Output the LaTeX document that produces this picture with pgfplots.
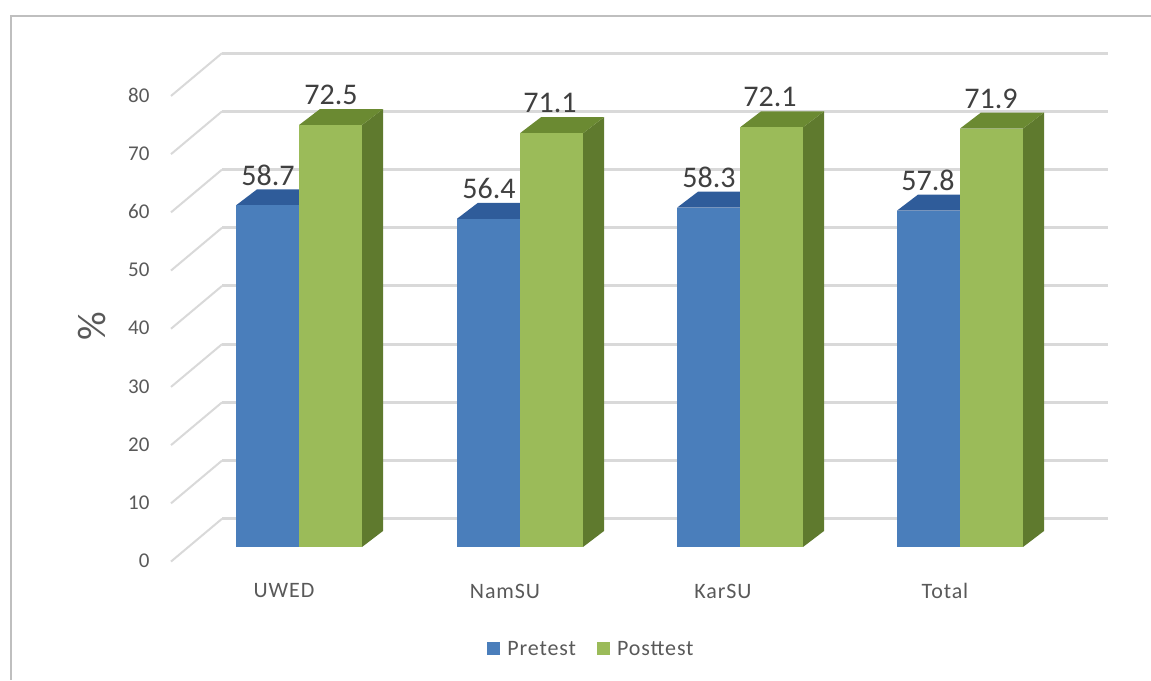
\documentclass[border=0pt]{standalone}
\usepackage{fontspec}
\setmainfont{Carlito}
\newfontfamily\spaced[LetterSpace=4]{Carlito}
\usepackage{pgfplots}
\pgfplotsset{compat=1.18}

\definecolor{gridc}{HTML}{D9D9D9}
\definecolor{framec}{HTML}{BFBFBF}
\definecolor{textc}{HTML}{595959}
\definecolor{labelc}{HTML}{404040}
\definecolor{bluef}{HTML}{4A7EBB}
\definecolor{bluet}{HTML}{2F5C9A}
\definecolor{greenf}{HTML}{9BBB59}
\definecolor{greens}{HTML}{5F7A2E}
\definecolor{greent}{HTML}{6B8A32}

% one level of the back wall and its diagonal on the floor side
\newcommand{\gridlevel}[1]{%
  \pgfmathsetmacro\yb{#1+4.85}\pgfmathsetmacro\yf{#1-2.5}%
  \addplot[forget plot, gridc, line width=3pt] coordinates {(222,\yb) (1108,\yb)};
  \addplot[forget plot, gridc, line width=2pt] coordinates {(171,\yf) (222,\yb)};
}
% one bar: left edge, value, front/side/top colours
\newcommand{\onebar}[5]{%
  \pgfmathsetmacro\xr{#1+63}\pgfmathsetmacro\xa{#1+21}\pgfmathsetmacro\xb{#1+84}%
  \pgfmathsetmacro\yt{#2+2.75}%
  \addplot[forget plot, fill=#4, draw=none] coordinates {(\xr,0) (\xb,2.75) (\xb,\yt) (\xr,#2)} --cycle;
  \addplot[forget plot, fill=#5, draw=none] coordinates {(#1,#2) (\xa,\yt) (\xb,\yt) (\xr,#2)} --cycle;
  \addplot[forget plot, fill=#3, draw=none] coordinates {(#1,0) (\xr,0) (\xr,#2) (#1,#2)} --cycle;
}
\newcommand{\barlabel}[2]{%
  \node[font=\fontsize{30}{30}\selectfont, text=labelc, anchor=center, yshift=30pt] at (axis cs:#1,#2) {#2};
}

\begin{document}
\begin{tikzpicture}
\useasboundingbox (-172pt,-133pt) rectangle (979pt,547pt);
\begin{axis}[
    scale only axis,
    width=936pt, height=494.7pt,
    xmin=172, xmax=1108,
    ymin=0, ymax=85,
    clip=false,
    axis line style={draw=none},
    tick style={draw=none},
    major tick length=0pt,
    xtick={284,505,723,945},
    xticklabels={UWED,NamSU,KarSU,Total},
    ytick={0,10,...,80},
    /pgf/number format/assume math mode=true,
    tick label style={font=\fontsize{21}{21}\selectfont, text=textc},
    yticklabel style={anchor=east, xshift=-19pt, yshift=-14pt},
    xticklabel style={anchor=center, yshift=-44pt, font=\spaced\fontsize{22}{22}\selectfont},
    ylabel={\%},
    ylabel style={font=\fontsize{40}{40}\selectfont, text=textc, at={(axis description cs:-0.085,0.446)}, anchor=center},
    legend style={at={(0.4482,-0.206)}, anchor=center, draw=none, fill=none,
      legend columns=2, font=\spaced\fontsize{22}{22}\selectfont, text=textc,
      /tikz/every odd column/.append style={column sep=5pt},
      /tikz/every even column/.append style={column sep=19pt}},
    legend image code/.code={\fill[#1] (0pt,-6.5pt) rectangle (13pt,6.5pt);},
]
\addlegendimage{fill=bluef, draw=none}
\addlegendentry{Pretest}
\addlegendimage{fill=greenf, draw=none}
\addlegendentry{Posttest}

% outer frame
\addplot[forget plot, framec, line width=2pt] coordinates {(11,-22.85) (11,91.3) (1151,91.3)};

\gridlevel{0}\gridlevel{10}\gridlevel{20}\gridlevel{30}\gridlevel{40}
\gridlevel{50}\gridlevel{60}\gridlevel{70}\gridlevel{80}

\onebar{236}{58.7}{bluef}{bluet}{bluet}
\onebar{299}{72.5}{greenf}{greens}{greent}
\onebar{457}{56.4}{bluef}{bluet}{bluet}
\onebar{520}{71.1}{greenf}{greens}{greent}
\onebar{677}{58.3}{bluef}{bluet}{bluet}
\onebar{740}{72.1}{greenf}{greens}{greent}
\onebar{897}{57.8}{bluef}{bluet}{bluet}
\onebar{960}{71.9}{greenf}{greens}{greent}

\barlabel{268}{58.7}
\barlabel{331}{72.5}
\barlabel{489}{56.4}
\barlabel{550}{71.1}
\barlabel{709}{58.3}
\barlabel{770}{72.1}
\barlabel{928}{57.8}
\barlabel{991}{71.9}
\end{axis}
\end{tikzpicture}
\end{document}
